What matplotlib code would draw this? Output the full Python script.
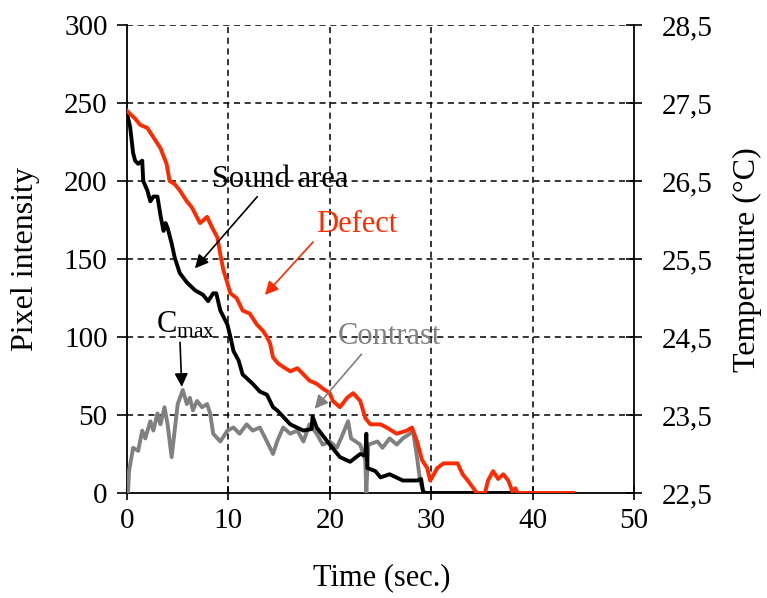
import matplotlib
matplotlib.use("Agg")
import matplotlib.pyplot as plt
from matplotlib.ticker import FuncFormatter

plt.rcParams['font.family'] = ['Liberation Serif', 'DejaVu Serif']
plt.rcParams['mathtext.fontset'] = 'custom'
plt.rcParams['mathtext.rm'] = 'Liberation Serif'

# defect curve (red)
t_def = [0, 0.3, 0.8, 1.3, 2.0, 2.6, 3.3, 3.9, 4.2, 4.7, 5.2, 5.9, 6.4, 7.2, 7.9,
         8.4, 8.9, 9.2, 9.5, 10.2, 10.8, 11.4, 12.1, 12.8, 13.4, 13.8, 14.1, 14.4,
         14.9, 15.6, 16.1, 16.8, 17.4, 18.0, 18.7, 19.3, 20.0, 20.3, 21.0, 21.7,
         22.3, 23.0, 23.5, 24.0, 25.0, 25.6, 26.6, 27.6, 28.1, 28.6, 29.1, 29.6,
         29.9, 30.6, 31.2, 31.9, 32.6, 33.1, 33.6, 34.5, 35.3, 35.6, 36.1, 36.6,
         37.1, 37.6, 38.0, 38.3, 38.5, 44.0]
v_def = [245, 243, 240, 236, 234, 228, 221, 211, 200, 198, 194, 187, 183, 173, 177,
         170, 164, 153, 143, 128, 125, 117, 115, 108, 104, 100, 96, 87,
         83, 80, 78, 80, 76, 72, 70, 67, 64, 59, 55, 61,
         64, 59, 48, 44, 44, 42, 38, 40, 42, 33, 21, 16,
         8, 16, 19, 19, 19, 12, 8, 0, 0, 8, 14, 9,
         12, 8, 1, 3, 0, 0]

# sound area curve (black)
t_snd = [0, 0.3, 0.6, 0.8, 1.1, 1.5, 1.6, 2.0, 2.3, 2.6, 3.0, 3.3, 3.6, 3.8, 4.0,
         4.4, 4.7, 5.2, 5.9, 6.7, 7.5, 8.0, 8.5, 8.8, 9.2, 9.9, 10.2, 10.5, 11.0,
         11.4, 12.4, 13.1, 13.8, 14.4, 14.8, 15.1, 16.1, 17.4, 18.2, 18.3, 18.7,
         20.0, 21.0, 22.0, 23.0, 23.5, 23.6, 23.7, 24.5, 25.0, 25.9, 27.2, 28.6,
         29.0, 29.2, 29.4, 44.0]
v_snd = [243, 235, 218, 213, 211, 213, 200, 194, 187, 190, 190, 178, 168, 173, 170,
         160, 151, 141, 135, 130, 127, 123, 128, 128, 117, 108, 100, 91, 85,
         76, 70, 65, 63, 55, 53, 51, 44, 40, 41, 49, 42,
         31, 23, 20, 25, 24, 38, 16, 14, 10, 12, 8, 8,
         9, 1, 0, 0]

# contrast curve (grey)
t_con = [0.1, 0.2, 0.6, 1.1, 1.5, 1.8, 2.3, 2.6, 3.0, 3.3, 3.7, 4.0, 4.4, 4.7, 5.0,
         5.5, 5.9, 6.2, 6.5, 6.9, 7.4, 7.9, 8.2, 8.5, 9.2, 9.9, 10.5, 11.1, 11.8,
         12.4, 13.1, 13.8, 14.4, 14.8, 15.4, 16.1, 16.8, 17.4, 18.0, 18.7, 19.3,
         20.0, 20.7, 21.3, 21.8, 22.1, 23.0, 23.5, 23.6, 23.8, 24.7, 25.2, 25.9,
         26.6, 27.2, 27.9, 28.2, 28.6, 28.9, 29.2, 29.4]
v_con = [0, 14, 29, 27, 40, 35, 46, 40, 51, 44, 55, 44, 23, 40, 57,
         66, 57, 61, 53, 59, 55, 57, 51, 38, 33, 40, 42, 38, 44,
         40, 42, 33, 25, 33, 42, 38, 40, 33, 44, 38, 31,
         33, 29, 38, 46, 35, 31, 21, 0, 31, 33, 29, 35,
         31, 35, 38, 40, 23, 8, 1, 0]

x_ticks = [0, 10, 20, 30, 40, 50]
y_ticks = [0, 50, 100, 150, 200, 250, 300]
temp_ticks = [22.5, 23.5, 24.5, 25.5, 26.5, 27.5, 28.5]

fig = plt.figure(figsize=(7.67, 5.98), dpi=100)
ax = fig.add_axes([0.1656, 0.1756, 0.661, 0.7826])
ax.set_xlim(0, 50)
ax.set_ylim(0, 300)

ax.plot(t_con, v_con, color='#808080', lw=2.8, zorder=3)
ax.plot(t_snd, v_snd, color='black', lw=2.8, zorder=4)
ax.plot(t_def, v_def, color='#ff2a00', lw=2.8, zorder=5)

for xv in x_ticks[1:-1]:
    ax.axvline(xv, color='black', lw=1.1, ls=(0, (4, 3)), zorder=1)
for yv in y_ticks[1:]:
    ax.axhline(yv, color='black', lw=1.1, ls=(0, (4, 3)), zorder=1)

ax.set_xticks(x_ticks)
ax.set_yticks(y_ticks)
ax.spines['top'].set_visible(False)
ax.spines['right'].set_visible(False)
for s in ['left', 'bottom']:
    ax.spines[s].set_linewidth(1.3)
ax.tick_params(axis='y', direction='out', length=7, width=1.2, labelsize=21, pad=7)
ax.tick_params(axis='x', direction='inout', length=10, width=1.2, labelsize=21, pad=6)

ax2 = ax.twinx()
ax2.set_ylim(22.5, 28.5)
ax2.set_yticks(temp_ticks)
ax2.yaxis.set_major_formatter(FuncFormatter(lambda v, p: ('%.1f' % v).replace('.', ',')))
for s in ['top', 'left', 'bottom']:
    ax2.spines[s].set_visible(False)
ax2.spines['right'].set_linewidth(1.3)
ax2.tick_params(axis='y', direction='inout', length=12, width=1.2, labelsize=21, pad=14)

ax.set_ylabel('Pixel intensity', fontsize=23)
ax.yaxis.set_label_coords(-0.172, 0.5)
ax2.set_ylabel('Temperature (°C)', fontsize=23)
ax2.yaxis.set_label_coords(1.195, 0.498)
ax.set_xlabel('Time (sec.)', fontsize=22)
ax.xaxis.set_label_coords(0.503, -0.15)

arr = dict(arrowstyle='-|>', lw=1.2, mutation_scale=20, shrinkA=0, shrinkB=0)
ax.annotate('Sound area', xy=(6.7, 144), xytext=(15.1, 201), fontsize=22,
            ha='center', va='center', zorder=6,
            arrowprops=dict(arr, color='black', relpos=(0.35, 0.0)))
ax.annotate('Defect', xy=(13.6, 127), xytext=(22.6, 172), fontsize=22,
            color='#ff2a00', ha='center', va='center', zorder=6,
            arrowprops=dict(arr, color='#ff2a00', relpos=(0.0, 0.0)))
ax.annotate('C$_{\\rm max}$', xy=(5.4, 68), xytext=(5.8, 108), fontsize=22,
            ha='center', va='center', zorder=6,
            arrowprops=dict(arr, color='black', relpos=(0.4, 0.0)))
ax.annotate('Contrast', xy=(18.5, 54), xytext=(25.9, 100), fontsize=22,
            color='#808080', ha='center', va='center', zorder=6,
            arrowprops=dict(arr, color='#808080', relpos=(0.25, 0.0)))

fig.savefig('out.png', dpi=100)
